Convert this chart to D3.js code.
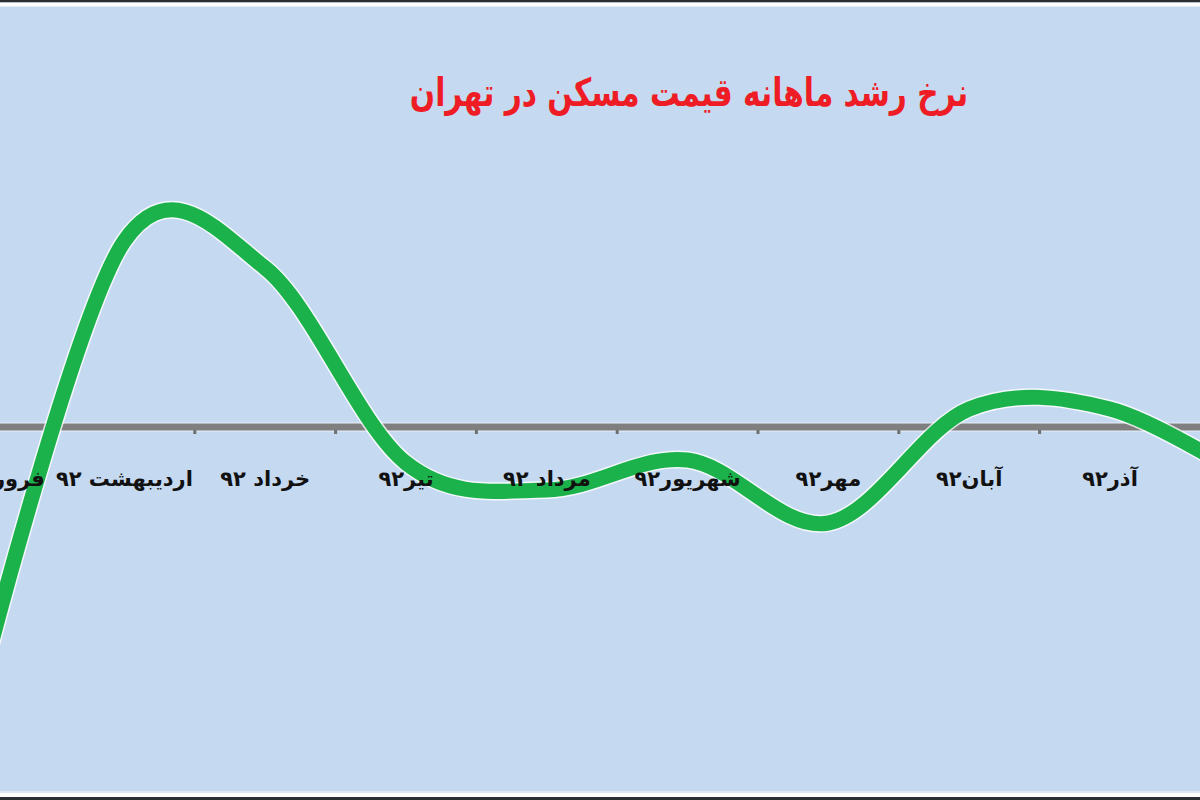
<!DOCTYPE html>
<html lang="fa">
<head>
    <meta charset="UTF-8">
    <title>نرخ رشد ماهانه قیمت مسکن در تهران</title>
    <script src="https://cdn.jsdelivr.net/npm/d3@7/dist/d3.min.js"></script>
    <style>
        body { margin: 0; background: #fff; }
    </style>
</head>
<body>
    <script>
        const title = 'نرخ رشد ماهانه قیمت مسکن در تهران';
        const months = ['فروردین ۹۲', 'اردیبهشت ۹۲', 'خرداد ۹۲', 'تیر۹۲', 'مرداد ۹۲', 'شهریور۹۲', 'مهر۹۲', 'آبان۹۲', 'آذر۹۲', 'دی۹۲'];
        // monthly growth, percent
        const growth = [-4.1, 3.1, 2.65, -0.6, -1.05, -0.55, -1.6, 0.3, 0.3, -0.9];

        const width = 1200, height = 800;
        const svg = d3.select('body').append('svg').attr('width', width).attr('height', height);

        // frame
        svg.append('rect').attr('width', width).attr('height', height).attr('fill', '#c5d9f1');
        svg.append('rect').attr('x', 0).attr('y', 0).attr('width', width).attr('height', 2.5).attr('fill', '#2b2f33');
        svg.append('rect').attr('x', 0).attr('y', 2.5).attr('width', width).attr('height', 4).attr('fill', '#ffffff');
        svg.append('rect').attr('x', 0).attr('y', 791).attr('width', width).attr('height', 2).attr('fill', '#dde8f6');
        svg.append('rect').attr('x', 0).attr('y', 793).attr('width', width).attr('height', 4).attr('fill', '#ffffff');
        svg.append('rect').attr('x', 0).attr('y', 797).attr('width', width).attr('height', 3).attr('fill', '#2b2f33');

        // categories sit between ticks (band), plot is cropped on both sides
        const step = 140.8, firstTick = 54 - step;
        const x = d3.scaleBand().domain(months).range([firstTick, firstTick + step * months.length]).padding(0);
        const y = d3.scaleLinear().domain([-5, 5]).range([727, 127]);

        const g = svg.append('g');

        // zero axis
        g.append('line').attr('x1', 0).attr('x2', width).attr('y1', y(0)).attr('y2', y(0))
            .attr('stroke', '#ffffff').attr('stroke-width', 9).attr('stroke-opacity', 0.6);
        const axis = d3.axisBottom(x).tickSize(0).tickFormat('');
        const ax = g.append('g').attr('transform', `translate(0,${y(0)})`).call(axis);
        ax.select('.domain').remove();
        ax.append('line').attr('x1', 0).attr('x2', width).attr('stroke', '#7f7f7f').attr('stroke-width', 7);
        // tick marks at band edges
        ax.selectAll('.tickmark').data(months).enter().append('line')
            .attr('class', 'tickmark')
            .attr('x1', d => x(d)).attr('x2', d => x(d))
            .attr('y1', 3).attr('y2', 7)
            .attr('stroke', '#6f6f6f').attr('stroke-width', 3);

        // smoothed line
        const line = d3.line()
            .x((d, i) => x(months[i]) + x.bandwidth() / 2)
            .y(d => y(d))
            .curve(d3.curveCardinal.tension(0));
        g.append('path').datum(growth).attr('d', line)
            .attr('fill', 'none').attr('stroke', '#ffffff').attr('stroke-width', 18)
            .attr('stroke-linecap', 'round').attr('stroke-opacity', 0.8);
        g.append('path').datum(growth).attr('d', line)
            .attr('fill', 'none').attr('stroke', '#1cb24b').attr('stroke-width', 15)
            .attr('stroke-linecap', 'round');

        // category labels (last month falls outside the cropped frame)
        g.selectAll('.lbl').data(months.filter(m => x(m) + x.bandwidth() / 2 < width)).enter().append('text')
            .attr('class', 'lbl')
            .attr('x', d => x(d) + x.bandwidth() / 2)
            .attr('y', 486)
            .attr('text-anchor', 'middle')
            .attr('direction', 'rtl')
            .attr('font-family', 'DejaVu Sans')
            .attr('font-weight', 'bold')
            .attr('font-size', 21)
            .attr('fill', '#111')
            .text(d => d);

        // title
        svg.append('text')
            .attr('transform', 'translate(689,106) scale(0.76,1)')
            .attr('text-anchor', 'middle')
            .attr('direction', 'rtl')
            .attr('font-family', 'DejaVu Sans')
            .attr('font-weight', 'bold')
            .attr('font-size', 39)
            .attr('fill', '#ee1c24')
            .text(title);
    </script>
</body>
</html>
